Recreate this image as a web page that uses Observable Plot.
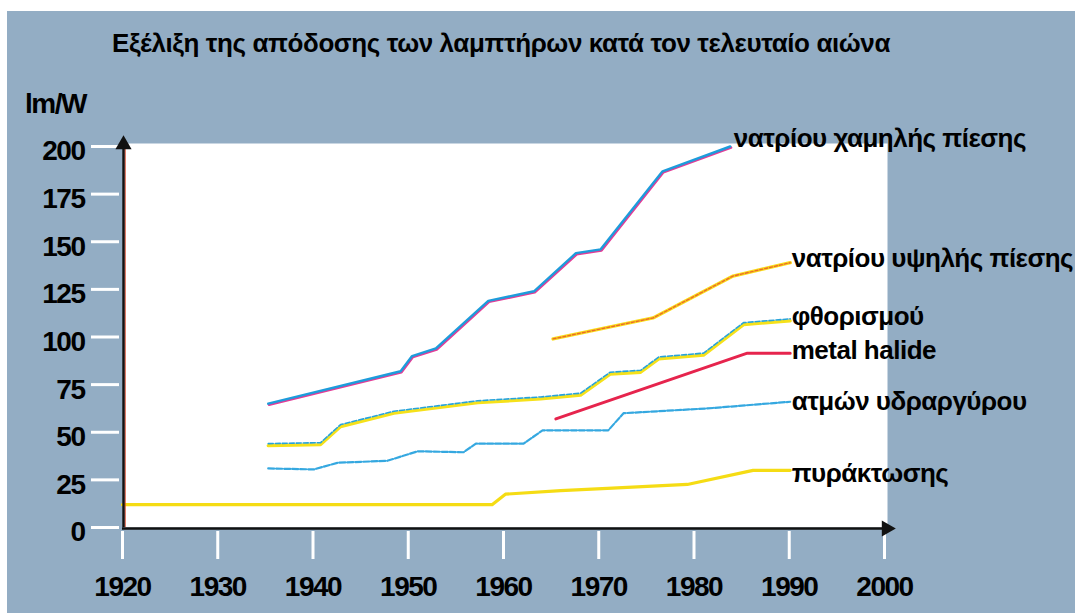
<!DOCTYPE html>
<html>
<head>
<meta charset="utf-8">
<script src="https://cdn.jsdelivr.net/npm/d3@7"></script>
<script src="https://cdn.jsdelivr.net/npm/@observablehq/plot@0.6"></script>
<style>
  body { margin: 0; background: #fff; }
  #wrap { position: relative; width: 1075px; height: 613px; overflow: hidden; font-family: "Liberation Sans", Arial, sans-serif; }
  #bg { position: absolute; left: 7px; top: 11px; right: 0; bottom: 0; background: #93adc4; }
  #title { position: absolute; left: 112px; top: 30px; font-size: 26px; line-height: 26px; font-weight: bold; letter-spacing: -0.4px; white-space: nowrap; color: #000; }
  #ylab { position: absolute; left: 25px; top: 90px; font-size: 28px; line-height: 28px; font-weight: bold; letter-spacing: -1.5px; color: #000; }
  #chart { position: absolute; left: 0; top: 0; }
  g[aria-label="y-axis tick label"], g[aria-label="x-axis tick label"] { letter-spacing: -1.5px; }
  .serieslabel { letter-spacing: -0.5px; }
</style>
</head>
<body>
<div id="wrap">
  <div id="bg"></div>
  <div id="title">Εξέλιξη της απόδοσης των λαμπτήρων κατά τον τελευταίο αιώνα</div>
  <div id="ylab">lm/W</div>
  <div id="chart"></div>
</div>
<script>
// ---- data ----
const xDomain = [1920, 2000];
const yDomain = [0, 200];
const xTicks = [1920, 1930, 1940, 1950, 1960, 1970, 1980, 1990, 2000];
const yTicks = [0, 25, 50, 75, 100, 125, 150, 175, 200];

const seriesNames = ["νατρίου χαμηλής πίεσης", "νατρίου υψηλής πίεσης", "φθορισμού", "metal halide", "ατμών υδραργύρου", "πυράκτωσης"];

const lowSodiumYears = [1935.3, 1949.2, 1950.4, 1952.9, 1958.4, 1963.2, 1967.6, 1970.2, 1976.7, 1983.8];
const lowSodiumValues = [65, 82, 90, 94, 119, 124, 144, 146, 187, 200];

const highSodiumYears = [1965.2, 1975.7, 1984.1, 1990.1];
const highSodiumValues = [99, 110, 132, 139];

const fluorescentYears = [1935.3, 1940.8, 1942.9, 1948.5, 1957.3, 1963.9, 1968.1, 1971.2, 1974.4, 1976.3, 1981.0, 1985.2, 1990.1];
const fluorescentValues = [43.5, 44, 53.5, 60.5, 66, 68, 70, 81, 82, 89, 91, 107, 109];

const metalHalideYears = [1965.5, 1985.6, 1990.1];
const metalHalideValues = [57, 91.5, 91.5];

const mercuryYears = [1935.3, 1940.1, 1942.6, 1947.8, 1951.0, 1955.8, 1957.1, 1962.1, 1964.1, 1971.0, 1972.6, 1981.4, 1990.1];
const mercuryValues = [31, 30.5, 34, 35, 40, 39.5, 44, 44, 51, 51, 60, 62.5, 66];

const incandescentYears = [1920, 1958.8, 1960.2, 1966.0, 1970.9, 1979.3, 1986.2, 1990.1];
const incandescentValues = [12, 12, 17.5, 19.4, 20.5, 22.6, 30, 30];

// ---- build tables ----
const rows = (ys, vs) => ys.map((x, i) => ({x, y: vs[i]}));
const lowSodium = rows(lowSodiumYears, lowSodiumValues);
const highSodium = rows(highSodiumYears, highSodiumValues);
const fluorescent = rows(fluorescentYears, fluorescentValues);
const metalHalide = rows(metalHalideYears, metalHalideValues);
const mercury = rows(mercuryYears, mercuryValues);
const incandescent = rows(incandescentYears, incandescentValues);

const line = (data, o) => Plot.line(data, {x: "x", y: "y", strokeLinejoin: "round", strokeLinecap: "round", ...o});
const label = (data, name, dx, dy) => Plot.text(data, Plot.selectLast({
  x: "x", y: "y", text: () => name, dx, dy, textAnchor: "start",
  fontSize: 26, fontWeight: "bold", fill: "#000", className: "serieslabel"
}));

const fmt = d => String(d);

const chart = Plot.plot({
  width: 1075,
  height: 613,
  marginLeft: 122,
  marginRight: 191,
  marginTop: 146,
  marginBottom: 86,
  x: {domain: xDomain},
  y: {domain: yDomain},
  style: {background: "transparent", overflow: "visible", fontFamily: "'Liberation Sans', Arial, sans-serif"},
  marks: [
    Plot.frame({fill: "white", stroke: null, insetRight: -3, insetTop: -3, insetLeft: 2}),
    // white tick marks
    Plot.axisY(yTicks, {tickSize: 28, dx: -3, stroke: "white", strokeWidth: 3, fill: "none", label: null, tickFormat: fmt}),
    Plot.axisX(xTicks, {tickSize: 28, dy: 4, stroke: "white", strokeWidth: 3, fill: "none", label: null, tickFormat: fmt}),
    // tick labels
    Plot.axisY(yTicks, {tickSize: 0, tickPadding: 38, dy: 5, fill: "#000", fontSize: 28, fontWeight: "bold", label: null, tickFormat: fmt}),
    Plot.axisX(xTicks, {tickSize: 0, tickPadding: 49, fill: "#000", fontSize: 28, fontWeight: "bold", label: null, tickFormat: fmt}),
    // series
    line(incandescent, {stroke: "#f5dc14", strokeWidth: 3.2}),
    line(mercury, {stroke: "#35a8e0", strokeWidth: 2.2, strokeDasharray: "6,2"}),
    line(metalHalide, {stroke: "#e6244d", strokeWidth: 3}),
    line(fluorescent, {stroke: "#f6e11a", strokeWidth: 3.2, dy: 1}),
    line(fluorescent, {stroke: "#27a3d9", strokeWidth: 1.6, dy: -1, strokeDasharray: "5,2"}),
    line(highSodium, {stroke: "#f8dc18", strokeWidth: 3.4}),
    line(highSodium, {stroke: "#ec6a2a", strokeWidth: 1.4, strokeDasharray: "3,2"}),
    line(lowSodium, {stroke: "#e23c96", strokeWidth: 2.6, dx: 0.8, dy: 1}),
    line(lowSodium, {stroke: "#1d9cdb", strokeWidth: 2.4}),
    // axis lines with arrows
    Plot.ruleX([xDomain[0]], {stroke: "#d2452a", strokeWidth: 1.2, dx: 2.6}),
    Plot.ruleX([xDomain[0]], {stroke: "#111", strokeWidth: 2.4, dx: 1}),
    Plot.ruleY([yDomain[0]], {stroke: "#111", strokeWidth: 2.4, dy: 1}),
    Plot.dot([[xDomain[0], yDomain[1]]], {x: d => d[0], y: d => d[1], symbol: "triangle", r: 6, fill: "#111", stroke: null, dx: 1, dy: -2}),
    Plot.dot([[xDomain[1], yDomain[0]]], {x: d => d[0], y: d => d[1], symbol: "triangle", r: 6, fill: "#111", stroke: null, rotate: 90, dx: 2, dy: 1}),
    // series labels
    label(lowSodium, seriesNames[0], 3.6, -7.6),
    label(highSodium, seriesNames[1], 1.5, -3.8),
    label(fluorescent, seriesNames[2], 1.5, -2.7),
    label(metalHalide, seriesNames[3], 1.5, -2.7),
    label(mercury, seriesNames[4], 1.5, 0.4),
    label(incandescent, seriesNames[5], 1.5, 3.5)
  ]
});
document.getElementById("chart").appendChild(chart);
</script>
</body>
</html>
